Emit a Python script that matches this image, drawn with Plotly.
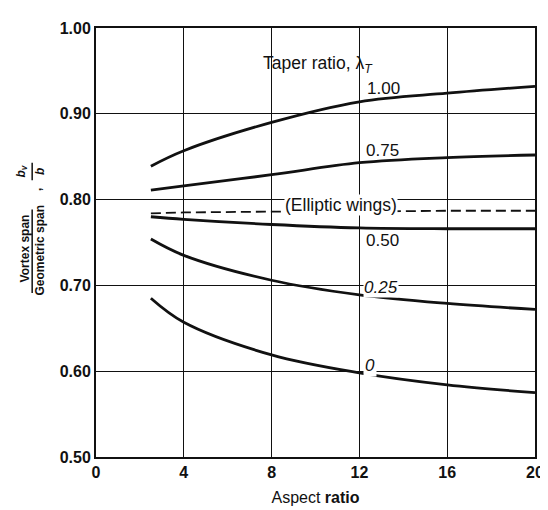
import plotly.graph_objects as go

# ---- data ----
aspect_ratio = [2.5, 4, 8, 12, 16, 20]
taper_100 = [0.839, 0.857, 0.890, 0.914, 0.924, 0.932]
taper_075 = [0.811, 0.816, 0.829, 0.843, 0.849, 0.852]
elliptic = [0.784, 0.785, 0.786, 0.786, 0.787, 0.787]
taper_050 = [0.780, 0.777, 0.771, 0.767, 0.766, 0.766]
taper_025 = [0.754, 0.735, 0.706, 0.689, 0.679, 0.672]
taper_000 = [0.685, 0.657, 0.619, 0.598, 0.584, 0.575]

x_ticks = [0, 4, 8, 12, 16, 20]
y_ticks = [0.50, 0.60, 0.70, 0.80, 0.90, 1.00]
y_tick_labels = ["0.50", "0.60", "0.70", "0.80", "0.90", "1.00"]

INK = "#111111"
FONT = "Liberation Sans, Arial, sans-serif"

fig = go.Figure()

solid_series = [taper_100, taper_075, taper_050, taper_025, taper_000]
for ys in solid_series:
    fig.add_trace(go.Scatter(x=aspect_ratio, y=ys, mode="lines",
                             line=dict(color=INK, width=2.8, shape="spline", smoothing=1.0),
                             showlegend=False, hoverinfo="skip"))
fig.add_trace(go.Scatter(x=aspect_ratio, y=elliptic, mode="lines",
                         line=dict(color=INK, width=1.8, dash="10px,5px"),
                         showlegend=False, hoverinfo="skip"))

big_font = dict(family=FONT, size=17.5, color=INK)
num_font = dict(family=FONT, size=17, color=INK)
annotations = [
    dict(x=10.1, y=0.958, text="Taper ratio, λ<sub><i>T</i></sub>", showarrow=False, font=big_font),
    dict(x=13.1, y=0.930, text="1.00", showarrow=False, font=num_font),
    dict(x=13.06, y=0.857, text="0.75", showarrow=False, font=num_font),
    dict(x=11.14, y=0.794, text="(Elliptic wings)", showarrow=False, font=big_font,
         bgcolor="white", borderpad=0),
    dict(x=13.06, y=0.752, text="0.50", showarrow=False, font=num_font),
    dict(x=12.98, y=0.697, text="<i>0.25</i>", showarrow=False, font=num_font,
         bgcolor="white", borderpad=0),
    dict(x=12.48, y=0.607, text="<i>0</i>", showarrow=False, font=num_font,
         bgcolor="white", borderpad=1),
]

# y-axis title built as a rotated fraction
yt_font = dict(family=FONT, size=12, color=INK, weight="bold")
annotations += [
    dict(xref="paper", yref="paper", x=-0.161, y=0.487, text="Vortex span", textangle=-90,
         showarrow=False, font=yt_font, xanchor="center", yanchor="middle"),
    dict(xref="paper", yref="paper", x=-0.128, y=0.483, text="Geometric span", textangle=-90,
         showarrow=False, font=yt_font, xanchor="center", yanchor="middle"),
    dict(xref="paper", yref="paper", x=-0.133, y=0.624, text=",", textangle=-90,
         showarrow=False, font=yt_font, xanchor="center", yanchor="middle"),
    dict(xref="paper", yref="paper", x=-0.168, y=0.666, text="<i>b</i><sub><i>v</i></sub>", textangle=-90,
         showarrow=False, font=yt_font, xanchor="center", yanchor="middle"),
    dict(xref="paper", yref="paper", x=-0.128, y=0.666, text="<i>b</i>", textangle=-90,
         showarrow=False, font=yt_font, xanchor="center", yanchor="middle"),
]

shapes = [
    dict(type="line", xref="paper", yref="paper", x0=-0.1454, x1=-0.1454, y0=0.382, y1=0.577,
         line=dict(color=INK, width=1.5)),
    dict(type="line", xref="paper", yref="paper", x0=-0.1454, x1=-0.1454, y0=0.645, y1=0.686,
         line=dict(color=INK, width=1.5)),
]

fig.update_layout(
    width=548, height=510,
    margin=dict(l=88, r=13, t=12, b=61),
    paper_bgcolor="white", plot_bgcolor="white",
    annotations=annotations, shapes=shapes,
    xaxis=dict(range=[0, 20], tickvals=x_ticks, ticks="", showgrid=True,
               gridcolor=INK, gridwidth=1.4, zeroline=False,
               showline=True, linecolor=INK, linewidth=2, mirror=True,
               tickfont=dict(family=FONT, size=16, color=INK, weight="bold"),
               title=dict(text="Aspect <b>ratio</b>", standoff=12,
                          font=dict(family=FONT, size=16, color=INK))),
    yaxis=dict(range=[0.5, 1.0], tickvals=y_ticks, ticktext=y_tick_labels, ticks="",
               showgrid=True, gridcolor=INK, gridwidth=1.4, zeroline=False,
               showline=True, linecolor=INK, linewidth=2, mirror=True,
               tickfont=dict(family=FONT, size=16, color=INK, weight="bold")),
)

fig.write_html("out.html")
